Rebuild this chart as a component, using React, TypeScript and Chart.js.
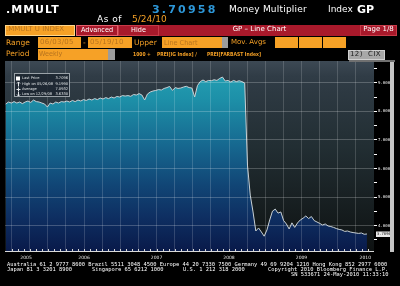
import React, { useEffect, useRef } from "react";
import { Chart, registerables } from "chart.js";

Chart.register(...registerables);

// ---------------- data ----------------
const startYear = 2005.42; // 06/03/05
const stepYears = 14 / 365.25; // two-week sampling
const multiplier = [
  8.255, 8.325, 8.29, 8.34, 8.29, 8.325, 8.27, 8.325, 8.36, 8.31,
  8.395, 8.34, 8.325, 8.29, 8.255, 8.15, 8.29, 8.255, 8.325, 8.29,
  8.34, 8.325, 8.36, 8.325, 8.38, 8.34, 8.395, 8.36, 8.41, 8.38,
  8.43, 8.395, 8.445, 8.41, 8.465, 8.43, 8.48, 8.445, 8.5, 8.465,
  8.52, 8.5, 8.55, 8.535, 8.55, 8.525, 8.59, 8.57, 8.62, 8.57,
  8.395, 8.605, 8.675, 8.71, 8.73, 8.76, 8.745, 8.8, 8.83, 8.87,
  8.73, 8.83, 8.8, 8.815, 8.85, 8.875, 8.83, 8.815, 8.5, 8.9,
  9.04, 9.095, 9.04, 9.08, 9.07, 9.105, 9.08, 9.15, 9.199, 9.06,
  9.08, 9.025, 9.08, 9.04, 9.07, 9.04, 8.99, 6.12, 5.07, 4.48,
  3.815, 3.92, 3.78, 3.633, 3.85, 4.2, 4.51, 4.58, 4.44, 4.48,
  4.18, 4.06, 3.885, 4.1, 3.94, 4.095, 4.2, 4.26, 4.34, 4.25,
  4.32, 4.18, 4.13, 4.08, 4.025, 4.06, 3.99, 3.97, 3.94, 3.9,
  3.87, 3.85, 3.8, 3.815, 3.78, 3.76, 3.745, 3.73, 3.745, 3.7,
  3.7096,
];
const yearLabels = ["2005", "2006", "2007", "2008", "2009", "2010"];
const yearLabelPos = [2005.7, 2006.5, 2007.5, 2008.5, 2009.5, 2010.38];
const yTickValues = [3.5, 4, 4.5, 5, 5.5, 6, 6.5, 7, 7.5, 8, 8.5, 9, 9.5];
const highDate = "05/26/08";
const lowDate = "12/29/08";

const SANS = '"DejaVu Sans", sans-serif';
const MONO = '"DejaVu Sans Mono", monospace';
const ORANGE = "#f6a126";
const DIM = "#b8741e";
const RED = "#a8192b";

function Txt(props: any) {
  const { x, y, s, c = "#fff", w = 400, f = SANS, ls = 0, cw, children } = props;
  const k = s < 7 ? 2 : 1;
  const fs = s * k;
  return (
    <div
      style={{
        position: "absolute",
        left: x,
        top: y - 0.116 * s,
        fontSize: fs,
        lineHeight: fs + "px",
        fontFamily: f,
        fontWeight: w,
        color: c,
        letterSpacing: ls * k,
        whiteSpace: "pre",
        width: cw !== undefined ? cw * k : undefined,
        textAlign: cw !== undefined ? "center" : undefined,
        transform: k === 2 ? "scale(0.5)" : undefined,
        transformOrigin: "0 0",
      }}
    >
      {children}
    </div>
  );
}

function Rect(props: any) {
  const { x, y, w, h, bg, b } = props;
  return (
    <div
      style={{
        position: "absolute",
        left: x,
        top: y,
        width: w,
        height: h,
        background: bg,
        boxSizing: "border-box",
        border: b ? "1px solid " + b : undefined,
      }}
    />
  );
}

export default function App() {
  const ref = useRef<HTMLCanvasElement>(null);

  useEffect(() => {
    const canvas = ref.current!;
    const points = multiplier.map((v, i) => ({ x: startYear + i * stepYears, y: v }));
    const quarterTicks: number[] = [];
    for (let q = 2005.5; q < 2010.5; q += 0.25) quarterTicks.push(q);
    const monthTicks: number[] = [];
    for (let m = 0; m < 60; m++) monthTicks.push(2005.5 + m / 12);

    const last = multiplier[multiplier.length - 1];
    const hi = Math.max(...multiplier);
    const lo = Math.min(...multiplier);
    const avg = multiplier.reduce((a, b) => a + b, 0) / multiplier.length;

    const deco = {
      id: "bbgDeco",
      beforeDraw(chart: any) {
        const { ctx, chartArea: a } = chart;
        const g = ctx.createLinearGradient(0, a.top, 0, a.bottom);
        g.addColorStop(0, "#3d4954");
        g.addColorStop(0.08, "#303c46");
        g.addColorStop(0.45, "#222e33");
        g.addColorStop(1, "#0e1212");
        ctx.save();
        ctx.fillStyle = g;
        ctx.fillRect(a.left, a.top, a.right - a.left, a.bottom - a.top);
        ctx.restore();
      },
      afterDraw(chart: any) {
        const { ctx, chartArea: a } = chart;
        const xs = chart.scales.x;
        const ys = chart.scales.y;
        ctx.save();
        // bottom axis line + monthly ticks
        ctx.strokeStyle = "#d8d8d8";
        ctx.lineWidth = 1;
        ctx.beginPath();
        ctx.moveTo(a.left, a.bottom + 0.5);
        ctx.lineTo(a.right, a.bottom + 0.5);
        monthTicks.forEach((m) => {
          const px = Math.round(xs.getPixelForValue(m)) + 0.5;
          ctx.moveTo(px, a.bottom);
          ctx.lineTo(px, a.bottom - 2);
        });
        ctx.stroke();
        // year labels
        ctx.fillStyle = "#e6e6e6";
        ctx.font = '4.5px "DejaVu Sans"';
        ctx.textAlign = "center";
        ctx.textBaseline = "middle";
        yearLabels.forEach((lab, i) => {
          ctx.fillText(lab, xs.getPixelForValue(yearLabelPos[i]), 258);
        });
        // legend box
        ctx.fillStyle = "rgba(28,38,48,0.85)";
        ctx.fillRect(14, 73, 56, 24);
        ctx.strokeStyle = "#9aa2a8";
        ctx.strokeRect(14.5, 73.5, 55, 23);
        const rows = [
          ["Last Price", last.toFixed(4)],
          ["High on " + highDate, hi.toFixed(4)],
          ["Average", avg.toFixed(4)],
          ["Low on " + lowDate, lo.toFixed(4)],
        ];
        const ry = [78.5, 84, 89.3, 94];
        ctx.font = '3.6px "DejaVu Sans"';
        ctx.textBaseline = "middle";
        rows.forEach((r, i) => {
          ctx.fillStyle = "#e4e8ea";
          ctx.textAlign = "left";
          ctx.fillText(r[0], 22, ry[i]);
          ctx.textAlign = "right";
          ctx.fillText(r[1], 68, ry[i]);
        });
        ctx.fillStyle = "#ffffff";
        ctx.fillRect(16, 76.5, 4, 4);
        ctx.strokeStyle = "#e4e8ea";
        ctx.beginPath();
        ctx.moveTo(18.5, 82);
        ctx.lineTo(18.5, 86.5);
        ctx.moveTo(17, 83.5);
        ctx.lineTo(18.5, 82);
        ctx.lineTo(20, 83.5);
        ctx.moveTo(16.5, 89.5);
        ctx.lineTo(20.5, 89.5);
        ctx.moveTo(18.5, 87.5);
        ctx.lineTo(18.5, 91.5);
        ctx.moveTo(18.5, 92);
        ctx.lineTo(18.5, 96);
        ctx.moveTo(17, 94.5);
        ctx.lineTo(18.5, 96);
        ctx.lineTo(20, 94.5);
        ctx.stroke();
        // last price tag
        const ly = ys.getPixelForValue(last);
        ctx.fillStyle = "#e8e8e8";
        ctx.fillRect(376, ly - 2.5, 14, 5.5);
        ctx.fillStyle = "#111";
        ctx.font = '3.8px "DejaVu Sans Mono"';
        ctx.textAlign = "left";
        ctx.fillText(last.toFixed(4), 377, ly + 0.3);
        ctx.restore();
      },
    };

    const chart = new Chart(canvas, {
      type: "line",
      data: {
        datasets: [
          {
            data: points,
            borderColor: "#c8d0d4",
            borderWidth: 1,
            pointRadius: 0,
            tension: 0,
            fill: "start",
            backgroundColor: (c: any) => {
              const a = c.chart.chartArea;
              if (!a) return "#1a8ca6";
              const g = c.chart.ctx.createLinearGradient(0, a.top, 0, a.bottom);
              g.addColorStop(0, "#27a6b8");
              g.addColorStop(0.2, "#1d90a8");
              g.addColorStop(0.45, "#16678f");
              g.addColorStop(0.65, "#114676");
              g.addColorStop(0.82, "#0e2f62");
              g.addColorStop(1, "#091a4a");
              return g;
            },
          },
        ],
      },
      options: {
        responsive: false,
        animation: false,
        devicePixelRatio: 1,
        layout: { padding: { left: 5, top: 61, right: 10, bottom: 35 } },
        plugins: { legend: { display: false }, tooltip: { enabled: false } },
        scales: {
          x: {
            type: "linear",
            min: 2005.41,
            max: 2010.5,
            z: 1,
            afterBuildTicks: (s: any) => {
              s.ticks = quarterTicks.map((v) => ({ value: v }));
            },
            afterFit: (s: any) => {
              s.height = 0;
            },
            ticks: { display: false },
            grid: { color: "rgba(255,255,255,0.16)", lineWidth: 1, drawTicks: false, z: 1 },
            border: { display: false },
          },
          y: {
            position: "right",
            min: 3.115,
            max: 9.76,
            z: 1,
            afterBuildTicks: (s: any) => {
              s.ticks = yTickValues.map((v) => ({ value: v }));
            },
            afterFit: (s: any) => {
              s.width = 16;
            },
            ticks: {
              autoSkip: false,
              callback: (v: any) => (Number.isInteger(v) ? Number(v).toFixed(4) : ""),
              color: "#f0f0f0",
              font: { family: "DejaVu Sans Mono", size: 4 },
              padding: 1,
            },
            grid: {
              color: (c: any) =>
                c.tick && Number.isInteger(c.tick.value) ? "rgba(255,255,255,0.22)" : "rgba(0,0,0,0)",
              tickColor: "#ffffff",
              tickLength: 3,
              drawTicks: true,
              z: 1,
            },
            border: { display: false },
          },
        },
      } as any,
      plugins: [deco],
    });
    return () => chart.destroy();
  }, []);

  return (
    <div
      style={{
        position: "fixed",
        left: 0,
        top: 0,
        width: 400,
        height: 286,
        background: "#000",
        overflow: "hidden",
      }}
    >
      <canvas ref={ref} width={400} height={286} style={{ position: "absolute", left: 0, top: 0, width: 400, height: 286 }} />

      {/* title row */}
      <Txt x={6} y={5} s={11} w={700} ls={1}>.MMULT</Txt>
      <Txt x={152} y={5} s={11} w={700} ls={2.2} c="#2d97d8">3.70958</Txt>
      <Txt x={229} y={6} s={9} ls={0.2}>Money Multiplier</Txt>
      <Txt x={328} y={6} s={9}>Index</Txt>
      <Txt x={357} y={5} s={11} w={700}>GP</Txt>
      <Txt x={97} y={16} s={9} ls={0.5}>As of</Txt>
      <Txt x={132} y={16} s={9} c={ORANGE}>5/24/10</Txt>

      {/* row 3 */}
      <Rect x={5} y={25} w={70} h={11} bg={ORANGE} b="#ffd68a" />
      <Txt x={6} y={27} s={7} c={DIM}>.MMULT U INDEX</Txt>
      <Rect x={76} y={25} w={42} h={11} bg={RED} b="#e4606c" />
      <Txt x={76} y={27} s={6.5} cw={42}>Advanced</Txt>
      <Rect x={118} y={25} w={41} h={11} bg={RED} b="#c83a48" />
      <Txt x={118} y={27} s={6.5} cw={41}>Hide</Txt>
      <Rect x={159} y={25} w={201} h={11} bg={RED} />
      <Txt x={159} y={27} s={7} cw={201}>GP – Line Chart</Txt>
      <Rect x={360} y={25} w={37} h={11} bg={RED} b="#c83a48" />
      <Txt x={360} y={27} s={7} cw={37}>Page 1/8</Txt>

      {/* row 4 */}
      <Txt x={6} y={39.5} s={7.5} c={ORANGE}>Range</Txt>
      <Rect x={38} y={37} w={43} h={11} bg={ORANGE} />
      <Txt x={40} y={39.5} s={7} c={DIM} ls={0.3}>06/03/05</Txt>
      <Txt x={83} y={39.5} s={7.5} c={ORANGE}>-</Txt>
      <Rect x={88} y={37} w={44} h={11} bg={ORANGE} />
      <Txt x={90} y={39.5} s={7} c={DIM} ls={0.3}>05/19/10</Txt>
      <Txt x={134} y={39.5} s={7.5} c={ORANGE}>Upper</Txt>
      <Rect x={162} y={37} w={60} h={11} bg={ORANGE} />
      <Rect x={222} y={37} w={6} h={11} bg="#9c9c9c" />
      <Txt x={164} y={39.5} s={6.5} c={DIM}>Line Chart</Txt>
      <Txt x={231} y={39.5} s={7} c={ORANGE}>Mov. Avgs</Txt>
      <Rect x={275} y={37} w={23} h={11} bg={ORANGE} />
      <Rect x={299} y={37} w={23} h={11} bg={ORANGE} />
      <Rect x={323} y={37} w={23} h={11} bg={ORANGE} />

      {/* row 5 */}
      <Txt x={6} y={51} s={7.5} c={ORANGE}>Period</Txt>
      <Rect x={38} y={49} w={70} h={11} bg={ORANGE} />
      <Rect x={108} y={49} w={7} h={11} bg="#9c9c9c" />
      <Txt x={39} y={51} s={6.5} c={DIM}>Weekly</Txt>
      <Txt x={133} y={53} s={4.5} w={700} c={ORANGE}>1000 +</Txt>
      <Txt x={157} y={53} s={4.5} w={700} c={ORANGE}>PREI[IG Index] /</Txt>
      <Txt x={207} y={53} s={4.5} w={700} c={ORANGE}>PREI[FARBAST Index]</Txt>
      <Rect x={348} y={50} w={37} h={10} bg="#a8a8a8" b="#d0d0d0" />
      <Txt x={350} y={52} s={7} c="#222" ls={0.4}>12)  CIX</Txt>

      {/* scrollbar */}
      <Rect x={390} y={61} w={4} h={191} bg="#c4c4c4" />
      <Rect x={349} y={60} w={46} h={1.5} bg="#707070" />

      {/* footer */}
      <Txt x={7} y={262.3} s={5.4} f={MONO}>
        Australia 61 2 9777 8600 Brazil 5511 3048 4500 Europe 44 20 7330 7500 Germany 49 69 9204 1210 Hong Kong 852 2977 6000
      </Txt>
      <Txt x={7} y={267.5} s={5.4} f={MONO}>Japan 81 3 3201 8900</Txt>
      <Txt x={92} y={267.5} s={5.4} f={MONO}>Singapore 65 6212 1000</Txt>
      <Txt x={183} y={267.5} s={5.4} f={MONO}>U.S. 1 212 318 2000</Txt>
      <Txt x={268} y={267.5} s={5.4} f={MONO}>Copyright 2010 Bloomberg Finance L.P.</Txt>
      <Txt x={291} y={273} s={5.4} f={MONO}>SN 533671 24-May-2010 11:33:10</Txt>
    </div>
  );
}
